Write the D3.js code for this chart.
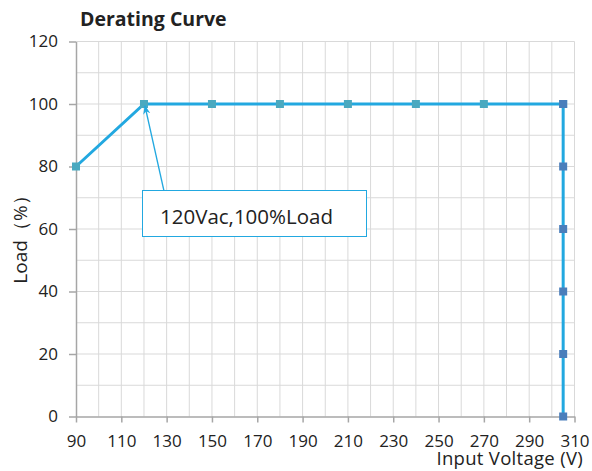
<!DOCTYPE html>
<html>
<head>
<meta charset="utf-8">
<script src="https://cdn.jsdelivr.net/npm/d3@7"></script>
<style>
body { margin: 0; background: #fff; }
text { font-family: "Open Sans", "Noto Sans", sans-serif; fill: #222; }
</style>
</head>
<body>
<div id="chart"></div>
<script>
// derating curve, main series
var curveVoltage = [90, 120, 150, 180, 210, 240, 270, 305];
var curveLoad = [80, 100, 100, 100, 100, 100, 100, 100];
// vertical cut-off at 305V
var cutVoltage = [305, 305, 305, 305, 305, 305];
var cutLoad = [100, 80, 60, 40, 20, 0];
var xTicks = [90, 110, 130, 150, 170, 190, 210, 230, 250, 270, 290, 310];
var yTicks = [0, 20, 40, 60, 80, 100, 120];
var noteText = "120Vac,100%Load";
var notePoint = [120, 100];

var width = 592, height = 471;
var svg = d3.select("#chart").append("svg")
    .attr("width", width)
    .attr("height", height);

var x = d3.scaleLinear().domain([90, 310]).range([76, 574.5]);
var y = d3.scaleLinear().domain([0, 120]).range([416.5, 41.5]);

var lineColor = "#22a8e0";

// grid every 10 units
var grid = svg.append("g");
grid.selectAll(".vg")
    .data(d3.range(100, 311, 10))
    .enter().append("line")
    .attr("x1", function(d){ return x(d); })
    .attr("x2", function(d){ return x(d); })
    .attr("y1", y(0))
    .attr("y2", y(120))
    .style("stroke", "#d9d9d9")
    .style("stroke-width", 1);
grid.selectAll(".hg")
    .data(d3.range(10, 121, 10))
    .enter().append("line")
    .attr("x1", x(90))
    .attr("x2", x(310))
    .attr("y1", function(d){ return y(d); })
    .attr("y2", function(d){ return y(d); })
    .style("stroke", "#d9d9d9")
    .style("stroke-width", 1);

// axes
var xAxis = svg.append("g")
    .attr("transform", "translate(0," + y(0) + ")")
    .call(d3.axisBottom(x).tickValues(xTicks).tickSize(6).tickSizeOuter(0).tickPadding(12));
var yAxis = svg.append("g")
    .attr("transform", "translate(" + x(90) + ",0)")
    .call(d3.axisLeft(y).tickValues(yTicks).tickSize(7).tickSizeOuter(0).tickPadding(11));
[xAxis, yAxis].forEach(function(a){
    a.select(".domain").style("stroke", "#a6a6a6").style("stroke-width", 1.5);
    a.selectAll(".tick line").style("stroke", "#a6a6a6").style("stroke-width", 1.5);
    a.selectAll(".tick text").style("font-size", "17px").style("fill", "#222")
        .style("font-family", "'Open Sans', sans-serif");
});

var line = d3.line()
    .x(function(d){ return x(d[0]); })
    .y(function(d){ return y(d[1]); });

var curve = curveVoltage.map(function(v, i){ return [v, curveLoad[i]]; });
var cut = cutVoltage.map(function(v, i){ return [v, cutLoad[i]]; });

svg.append("path").datum(cut)
    .attr("d", line)
    .style("fill", "none")
    .style("stroke", lineColor)
    .style("stroke-width", 3);
svg.append("path").datum(curve)
    .attr("d", line)
    .style("fill", "none")
    .style("stroke", lineColor)
    .style("stroke-width", 3);

svg.selectAll(".m1").data(curve).enter().append("rect")
    .attr("x", function(d){ return x(d[0]) - 4; })
    .attr("y", function(d){ return y(d[1]) - 4; })
    .attr("width", 8).attr("height", 8)
    .style("fill", "#4aa9c0");
svg.selectAll(".m2").data(cut).enter().append("rect")
    .attr("x", function(d){ return x(d[0]) - 4; })
    .attr("y", function(d){ return y(d[1]) - 4; })
    .attr("width", 8).attr("height", 8)
    .style("fill", "#4a7ebb");

// annotation callout
svg.append("defs").append("marker")
    .attr("id", "arr")
    .attr("viewBox", "0 0 10 10")
    .attr("refX", 9).attr("refY", 5)
    .attr("markerWidth", 7).attr("markerHeight", 7)
    .attr("orient", "auto")
    .append("path")
    .attr("d", "M0,1 L10,5 L0,9 L3,5 Z")
    .style("fill", lineColor);

svg.append("line")
    .attr("x1", 164).attr("y1", 191)
    .attr("x2", x(notePoint[0]) + 1).attr("y2", y(notePoint[1]) + 2)
    .style("stroke", lineColor)
    .style("stroke-width", 1.3)
    .attr("marker-end", "url(#arr)");

svg.append("rect")
    .attr("x", 142.5).attr("y", 190.5)
    .attr("width", 224).attr("height", 46)
    .style("fill", "#fff")
    .style("stroke", lineColor)
    .style("stroke-width", 1);
svg.append("text")
    .attr("x", 160).attr("y", 224)
    .style("font-size", "20.5px")
    .text(noteText);

// titles
svg.append("text")
    .attr("x", 80).attr("y", 26)
    .style("font-size", "19.5px")
    .style("font-weight", "bold")
    .text("Derating Curve");
svg.append("text")
    .attr("transform", "translate(27,235) rotate(-90)")
    .attr("text-anchor", "middle")
    .style("font-size", "19px")
    .text("Load（%）");
svg.append("text")
    .attr("x", 583).attr("y", 465)
    .attr("text-anchor", "end")
    .style("font-size", "18.5px")
    .style("letter-spacing", "0.3px")
    .text("Input Voltage (V)");
</script>
</body>
</html>
